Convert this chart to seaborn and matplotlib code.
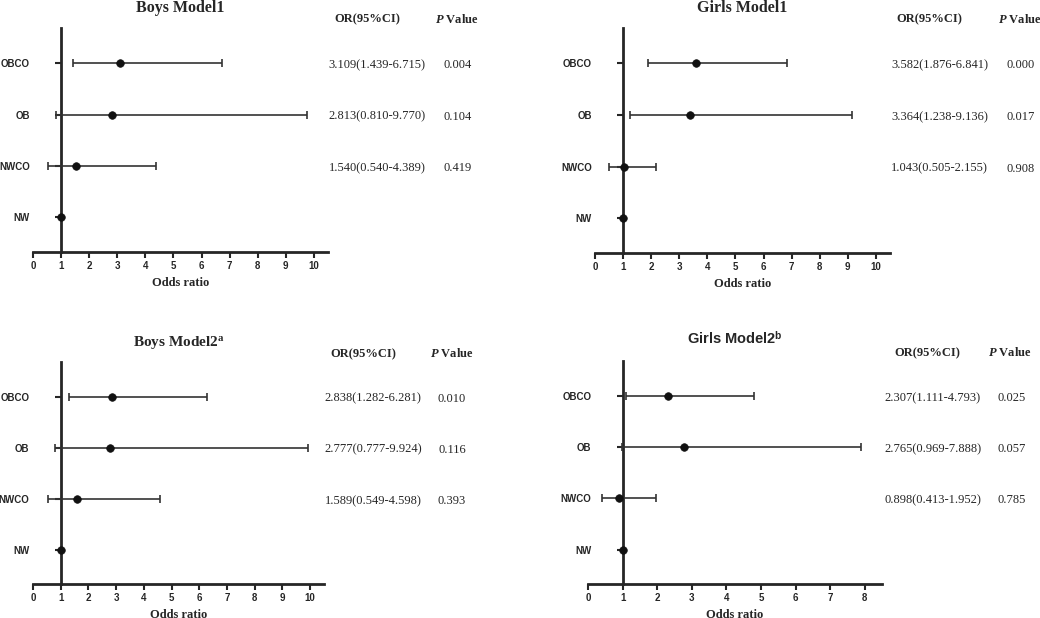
import matplotlib
matplotlib.use('Agg')
import matplotlib.pyplot as plt
import matplotlib.transforms as mtransforms
import pandas as pd
import seaborn as sns

# data (top to bottom: OBCO, OB, NWCO, NW reference)
categories = ['OBCO', 'OB', 'NWCO', 'NW']

boys_m1_or = [3.109, 2.813, 1.540, 1.0]
boys_m1_low = [1.439, 0.810, 0.540]
boys_m1_high = [6.715, 9.770, 4.389]
boys_m1_p = ['0.004', '0.104', '0.419']

girls_m1_or = [3.582, 3.364, 1.043, 1.0]
girls_m1_low = [1.876, 1.238, 0.505]
girls_m1_high = [6.841, 9.136, 2.155]
girls_m1_p = ['0.000', '0.017', '0.908']

boys_m2_or = [2.838, 2.777, 1.589, 1.0]
boys_m2_low = [1.282, 0.777, 0.549]
boys_m2_high = [6.281, 9.924, 4.598]
boys_m2_p = ['0.010', '0.116', '0.393']

girls_m2_or = [2.307, 2.765, 0.898, 1.0]
girls_m2_low = [1.111, 0.969, 0.413]
girls_m2_high = [4.793, 7.888, 1.952]
girls_m2_p = ['0.025', '0.057', '0.785']

sns.set_style('ticks')
plt.rcParams['mathtext.fontset'] = 'custom'
plt.rcParams['mathtext.rm'] = 'Liberation Serif:bold'
plt.rcParams['mathtext.bf'] = 'Liberation Serif:bold'
plt.rcParams['mathtext.it'] = 'Liberation Serif:bold:italic'
plt.rcParams['mathtext.sf'] = 'Liberation Sans:bold'

W, H = 1040, 618
fig = plt.figure(figsize=(W / 100, H / 100), dpi=100)


def rect(l, t, r, b):
    return [l / W, 1 - b / H, (r - l) / W, (b - t) / H]


def forest(box, xmax, title, ors, lows, highs, pvals, col_x, title_size=11.5):
    ax = fig.add_axes(rect(*box))
    ys = [3, 2, 1, 0]
    df = pd.DataFrame({'cat': categories, 'y': ys, 'or': ors})

    err = [[o - lo for o, lo in zip(ors, lows)], [hi - o for o, hi in zip(ors, highs)]]
    ax.errorbar(ors[:3], ys[:3], xerr=err, fmt='none', ecolor='#333333',
                elinewidth=1.2, capsize=3, capthick=1.2, zorder=3)
    sns.scatterplot(data=df, x='or', y='y', s=30, color='#111111',
                    edgecolor='#111111', linewidth=0.5, zorder=4, ax=ax,
                    legend=False, clip_on=False)

    ax.set_xlim(0, xmax)
    ax.set_ylim(-0.67, 3.68)
    ax.set_xticks(range(0, int(xmax) + 1))
    ax.set_yticks(ys)
    ax.set_yticklabels(categories)
    for s in ['top', 'right']:
        ax.spines[s].set_visible(False)
    ax.spines['left'].set_position(('data', 1))
    ax.spines['left'].set_linewidth(2)
    ax.spines['bottom'].set_linewidth(2)
    ax.tick_params(axis='x', length=4, width=1.5, pad=2.5)
    ax.tick_params(axis='y', length=4.5, width=1.5, pad=18)
    for lab in ax.get_xticklabels() + ax.get_yticklabels():
        lab.set_fontfamily('Liberation Sans')
        lab.set_fontweight('bold')
        lab.set_fontsize(7)
    ax.set_xlabel('Odds ratio', fontfamily='Liberation Serif',
                  fontweight='bold', fontsize=9, labelpad=4)
    ax.set_ylabel('')
    ax.set_title(title, fontfamily='Liberation Serif', fontweight='bold',
                 fontsize=title_size, pad=11.5)

    tr = mtransforms.blended_transform_factory(ax.transAxes, ax.transData)
    hx_or, hx_p, vx_or, vx_p = col_x
    ax.text(hx_or, 3.84, 'OR(95%CI)', transform=tr, ha='center', va='center',
            fontfamily='Liberation Serif', fontweight='bold', fontsize=9)
    ax.text(hx_p, 3.84, r'$\mathit{P}$ Value', transform=tr, ha='center',
            va='center', fontfamily='Liberation Serif', fontweight='bold',
            fontsize=9)
    for y, o, lo, hi, p in zip(ys, ors, lows, highs, pvals):
        ax.text(vx_or, y - 0.04, f'{o:.3f}({lo:.3f}-{hi:.3f})', transform=tr,
                ha='center', va='center', fontfamily='Liberation Serif',
                fontsize=9)
        ax.text(vx_p, y - 0.04, p, transform=tr, ha='center', va='center',
                fontfamily='Liberation Serif', fontsize=9)
    return ax


forest((33, 28, 328, 252), 10.5, 'Boys Model1',
       boys_m1_or, boys_m1_low, boys_m1_high, boys_m1_p,
       (1.132, 1.437, 1.166, 1.441))
forest((595, 28, 890, 253), 10.5, 'Girls Model1',
       girls_m1_or, girls_m1_low, girls_m1_high, girls_m1_p,
       (1.132, 1.441, 1.169, 1.444))
forest((33, 362, 324, 584), 10.5, r'$\mathbf{Boys\ Model2}^{\mathbf{a}}$',
       boys_m2_or, boys_m2_low, boys_m2_high, boys_m2_p,
       (1.134, 1.44, 1.168, 1.44), title_size=11)
forest((588, 361, 882, 584), 8.5, r'$\mathsf{Girls\ Model2}^{\mathsf{b}}$',
       girls_m2_or, girls_m2_low, girls_m2_high, girls_m2_p,
       (1.153, 1.435, 1.173, 1.44), title_size=10.5)

fig.savefig('out.png', dpi=100)
